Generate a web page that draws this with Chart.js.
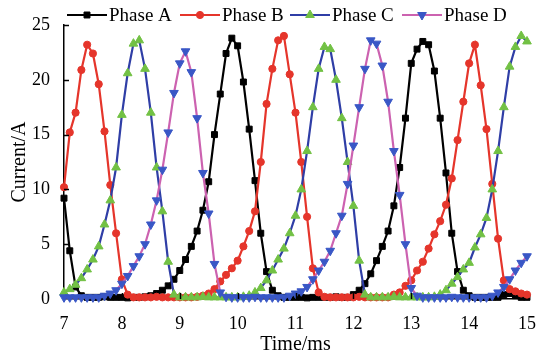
<!DOCTYPE html>
<html>
<head>
<meta charset="utf-8">
<script src="https://cdn.jsdelivr.net/npm/chart.js@4/dist/chart.umd.min.js"></script>
<style>
  html, body { margin: 0; padding: 0; background: #fff; }
  #wrap { width: 542px; height: 355px; }
</style>
</head>
<body>
<div id="wrap"><canvas id="currentChart"></canvas></div>
<script>
// sample times (ms)
const times = [7.0, 7.1, 7.2, 7.3, 7.4, 7.5, 7.6, 7.7, 7.8, 7.9,
    8.0, 8.1, 8.2, 8.3, 8.4, 8.5, 8.6, 8.7, 8.8, 8.9,
    9.0, 9.1, 9.2, 9.3, 9.4, 9.5, 9.6, 9.7, 9.8, 9.9,
    10.0, 10.1, 10.2, 10.3, 10.4, 10.5, 10.6, 10.7, 10.8, 10.9,
    11.0, 11.1, 11.2, 11.3, 11.4, 11.5, 11.6, 11.7, 11.8, 11.9,
    12.0, 12.1, 12.2, 12.3, 12.4, 12.5, 12.6, 12.7, 12.8, 12.9,
    13.0, 13.1, 13.2, 13.3, 13.4, 13.5, 13.6, 13.7, 13.8, 13.9,
    14.0, 14.1, 14.2, 14.3, 14.4, 14.5, 14.6, 14.7, 14.8, 14.9, 15.0];

// phase currents (A)
const phaseA = [9.2, 4.4, 1.1, 0.3,
    0.15, 0.15, 0.15, 0.2, 0.15, 0.15, 0.15, 0.1, 0.15, 0.15, 0.2,
    0.3, 0.5, 0.8, 1.2, 1.8, 2.6, 3.6, 4.8,
    6.2, 8.1, 10.7, 15.0, 18.7, 22.4, 23.8,
    23.1, 19.8, 15.5, 10.8, 6.0, 2.5, 0.8, 0.3,
    0.15, 0.15, 0.15, 0.15, 0.1, 0.15, 0.15, 0.15, 0.15, 0.2, 0.15, 0.15,
    0.4, 0.8, 1.4, 2.3, 3.5, 4.8, 6.2, 8.5, 12.0, 16.5,
    21.5, 22.8, 23.5, 23.2, 20.8, 16.5, 11.5, 6.0, 2.5, 0.8, 0.3,
    0.15, 0.15, 0.15, 0.15, 0.15, 0.4, 0.5, 0.3, 0.15, 0.15];

const phaseB = [10.2, 15.2, 17.0, 20.9, 23.2, 22.4, 19.6, 15.3, 10.4, 6.0, 1.8, 0.4,
    0.15, 0.15, 0.15, 0.15, 0.2, 0.15, 0.15, 0.15, 0.15, 0.15, 0.15,
    0.2, 0.3, 0.5, 0.9, 1.6, 2.2, 2.8,
    3.5, 4.8, 6.2, 8.0, 12.5,
    17.8, 21.0, 23.6, 24.0, 20.5, 17.0, 12.5, 7.5,
    2.8, 0.6, 0.2, 0.15,
    0.15, 0.15, 0.15, 0.15, 0.2, 0.15, 0.15, 0.15, 0.15, 0.15,
    0.4, 0.6, 1.2, 1.7, 2.6, 3.4, 4.6, 5.9, 7.1, 8.6, 11.0, 14.5,
    18.0, 21.5, 23.2, 19.5, 15.5, 10.5, 5.5, 1.7, 0.9, 0.7, 0.5, 0.4];

const phaseC = [0.6, 0.9, 1.3, 1.9, 2.7, 3.6, 4.8, 6.8, 9.0, 12.0,
    16.8, 20.6, 23.3, 23.6, 21.0, 17.0, 12.0, 8.0, 3.4, 0.4,
    0.15, 0.15, 0.15, 0.15, 0.2, 0.15, 0.15, 0.15, 0.15, 0.15, 0.15, 0.2,
    0.3, 0.6, 1.0, 1.7, 2.6, 3.6, 4.6, 6.0, 7.6, 10.0,
    13.5, 17.5, 21.0, 23.0, 22.8, 20.0, 16.5, 12.5, 8.5, 3.5,
    0.4, 0.15, 0.15, 0.15, 0.15, 0.2, 0.15, 0.15, 0.15, 0.15, 0.15, 0.15,
    0.2, 0.4, 0.8, 1.4, 2.0, 2.7, 3.3, 4.7, 5.9, 7.4, 10.0, 13.5, 17.5, 21.2, 23.0, 24.0, 23.5];

const phaseD = [0.15, 0.15, 0.15, 0.15, 0.15, 0.15, 0.15, 0.3,
    0.5, 0.8, 1.4, 2.1, 3.0, 3.9, 5.0, 6.8, 9.0, 11.8, 15.2, 18.8, 21.5, 22.6,
    20.7, 16.5, 11.5, 7.8, 3.2, 0.6, 0.2, 0.15,
    0.15, 0.15, 0.15, 0.2, 0.15, 0.15, 0.15, 0.15, 0.15,
    0.3, 0.5, 0.7, 1.1, 1.8, 2.6, 3.4, 4.4, 6.0, 7.6, 10.5, 14.0,
    17.5, 21.0, 23.6, 23.3, 21.3, 18.0, 13.5, 9.5, 5.0, 1.0,
    0.3, 0.15, 0.15, 0.15, 0.15, 0.15, 0.2, 0.15, 0.15, 0.15, 0.15, 0.15, 0.15,
    0.3, 0.6, 1.1, 1.8, 2.6, 3.3, 3.9];

const seriesNames = ['Phase A', 'Phase B', 'Phase C', 'Phase D'];
const xRange = [7, 15];
const yRange = [0, 25];

const SERIF = '"Liberation Serif", "Times New Roman", serif';

function pairs(ys) {
    return ys.map((y, i) => ({ x: times[i], y: y }));
}

const styles = [
    { line: '#000000', mark: '#000000', shape: 'rect', r: 4.2, rot: 0 },
    { line: '#e5352b', mark: '#e5352b', shape: 'circle', r: 3.6, rot: 0 },
    { line: '#2f3ea6', mark: '#72c144', shape: 'triangle', r: 5, rot: 0 },
    { line: '#cc62b0', mark: '#3957c6', shape: 'triangle', r: 5, rot: 180 }
];

const allSeries = [phaseA, phaseB, phaseC, phaseD];

const datasets = allSeries.map((vals, i) => ({
    label: seriesNames[i],
    data: pairs(vals),
    borderColor: styles[i].line,
    borderWidth: 2.2,
    backgroundColor: styles[i].mark,
    pointBackgroundColor: styles[i].mark,
    pointBorderColor: styles[i].mark,
    pointBorderWidth: 1,
    pointStyle: styles[i].shape,
    pointRotation: styles[i].rot,
    pointRadius: styles[i].r,
    tension: 0,
    clip: false,
    order: 4 - i
}));

// inward tick marks + line/marker legend
const extras = {
    id: 'extras',
    afterDraw(chart) {
        const ctx = chart.ctx;
        const xs = chart.scales.x, ys = chart.scales.y;
        const area = chart.chartArea;
        ctx.save();
        ctx.strokeStyle = '#000';
        ctx.lineWidth = 1.5;
        ys.ticks.forEach((t, i) => {
            if (t.value === yRange[0]) return;
            const py = Math.round(ys.getPixelForTick(i)) + 0.5;
            ctx.beginPath();
            ctx.moveTo(area.left, py);
            ctx.lineTo(area.left + 5, py);
            ctx.stroke();
        });
        xs.ticks.forEach((t, i) => {
            if (t.value === xRange[0] || t.value === xRange[1]) return;
            const px = Math.round(xs.getPixelForTick(i)) + 0.5;
            ctx.beginPath();
            ctx.moveTo(px, area.bottom);
            ctx.lineTo(px, area.bottom - 6);
            ctx.stroke();
        });

        const starts = [67, 180, 290, 402];
        const ly = 15;
        ctx.font = '19px ' + SERIF;
        ctx.textBaseline = 'middle';
        ctx.textAlign = 'left';
        styles.forEach((s, i) => {
            const x0 = starts[i];
            ctx.strokeStyle = s.line;
            ctx.lineWidth = 2;
            ctx.beginPath();
            ctx.moveTo(x0, ly);
            ctx.lineTo(x0 + 40, ly);
            ctx.stroke();
            ctx.fillStyle = s.mark;
            ctx.strokeStyle = s.mark;
            ctx.lineWidth = 1;
            Chart.helpers.drawPoint(ctx, {
                pointStyle: s.shape, radius: s.r, rotation: s.rot, borderWidth: 1
            }, x0 + 20, ly);
            ctx.fillStyle = '#000';
            ctx.fillText(seriesNames[i], x0 + 42, ly + 1);
        });
        ctx.restore();
    }
};

new Chart(document.getElementById('currentChart').getContext('2d'), {
    type: 'line',
    data: { datasets: datasets },
    options: {
        responsive: true,
        maintainAspectRatio: false,
        animation: false,
        devicePixelRatio: 1,
        layout: { padding: { left: 0, top: 25, right: 12, bottom: 0 } },
        plugins: { legend: { display: false }, tooltip: { enabled: false } },
        scales: {
            x: {
                type: 'linear',
                min: xRange[0],
                max: xRange[1],
                afterFit(scale) { scale.height = 56; },
                grid: { display: false },
                border: { color: '#000', width: 1.5 },
                ticks: {
                    stepSize: 1,
                    color: '#000',
                    padding: 6,
                    font: { family: SERIF, size: 18 }
                },
                title: {
                    display: true,
                    text: 'Time/ms',
                    color: '#000',
                    padding: { top: 6, bottom: 0 },
                    font: { family: SERIF, size: 20, lineHeight: 1 }
                }
            },
            y: {
                min: yRange[0],
                max: yRange[1],
                afterFit(scale) { scale.width = 64; },
                grid: { display: false },
                border: { color: '#000', width: 1.5 },
                ticks: {
                    stepSize: 5,
                    color: '#000',
                    padding: 6,
                    font: { family: SERIF, size: 18 }
                },
                title: {
                    display: true,
                    text: 'Current/A',
                    color: '#000',
                    padding: { top: 10, bottom: 0 },
                    font: { family: SERIF, size: 20, lineHeight: 1 }
                }
            }
        }
    },
    plugins: [extras]
});
</script>
</body>
</html>
